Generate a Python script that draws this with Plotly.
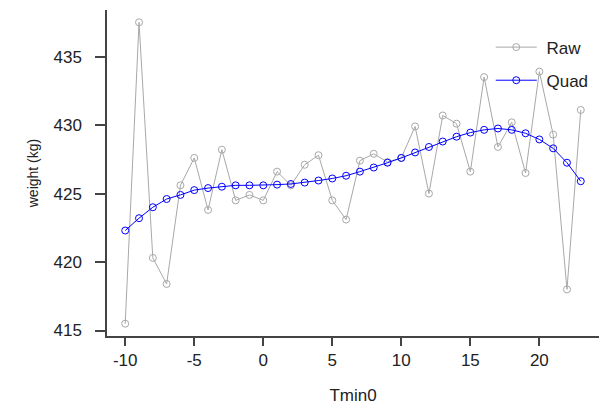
import plotly.graph_objects as go

tmin0 = [-10, -9, -8, -7, -6, -5, -4, -3, -2, -1, 0, 1, 2, 3, 4, 5, 6,
         7, 8, 9, 10, 11, 12, 13, 14, 15, 16, 17, 18, 19, 20, 21, 22, 23]
raw = [415.5, 437.5, 420.3, 418.4, 425.6, 427.6, 423.8, 428.2, 424.5, 424.9,
       424.5, 426.6, 425.6, 427.1, 427.8, 424.5, 423.1, 427.4, 427.9, 427.3,
       427.6, 429.9, 425.0, 430.7, 430.1, 426.6, 433.5, 428.4, 430.2, 426.5,
       433.9, 429.3, 418.0, 431.1]
quad = [422.3, 423.2, 424.0, 424.6, 424.9, 425.25, 425.4, 425.5, 425.6, 425.6,
        425.6, 425.65, 425.7, 425.8, 425.95, 426.1, 426.3, 426.6, 426.9, 427.25,
        427.6, 428.0, 428.4, 428.8, 429.15, 429.45, 429.65, 429.75, 429.65, 429.4,
        428.95, 428.3, 427.25, 425.9]
x_ticks = [-10, -5, 0, 5, 10, 15, 20]
x_labels = ["-10", "-5", "0", "5", "10", "15", "20"]
y_ticks = [415, 420, 425, 430, 435]

FONT = "Liberation Sans, Arial, sans-serif"
TXT = "#222222"

fig = go.Figure()
fig.add_trace(go.Scatter(
    x=tmin0, y=raw, name="\u00a0Raw", mode="lines+markers", legendgroup="a",
    line=dict(color="#a8a8a8", width=1), cliponaxis=False,
    marker=dict(symbol="circle-open", size=7, color="#a8a8a8", line=dict(width=1)),
))
fig.add_trace(go.Scatter(
    x=tmin0, y=quad, name="\u00a0Quad", mode="lines+markers", legendgroup="b",
    line=dict(color="#0000ff", width=1), cliponaxis=False,
    marker=dict(symbol="circle-open", size=7, color="#0000ff", line=dict(width=1)),
))

fig.update_layout(
    width=599, height=409,
    margin=dict(l=107, r=0, t=10, b=73),
    plot_bgcolor="white", paper_bgcolor="white",
    font=dict(family=FONT, size=17, color=TXT),
    showlegend=True,
    legend=dict(x=0.78, xanchor="left", y=0.94, yanchor="top",
                bgcolor="rgba(0,0,0,0)", borderwidth=0, itemwidth=41,
                font=dict(size=17, color=TXT), tracegroupgap=8),
    xaxis=dict(range=[-11.32, 24.32], tickvals=x_ticks, ticktext=x_labels,
               showgrid=False, zeroline=False, automargin=False,
               showline=True, linecolor="#444444", linewidth=1.5,
               ticks="outside", ticklen=8, tickcolor="#444444", tickwidth=1.5,
               ticklabelstandoff=0,
               title=dict(text="Tmin0", font=dict(size=17, color=TXT), standoff=20)),
    yaxis=dict(range=[414.6, 438.4], tickvals=y_ticks, showgrid=False, zeroline=False,
               automargin=False,
               showline=True, linecolor="#444444", linewidth=1.5,
               ticks="outside", ticklen=10, tickcolor="#444444", tickwidth=1.5,
               ticklabelstandoff=10,
               title=dict(text="weight (kg)", font=dict(size=14, color=TXT), standoff=12)),
)

fig.write_html("out.html", config={"displayModeBar": False},
               post_script="document.body.style.margin='0px';document.body.style.padding='0px';")
